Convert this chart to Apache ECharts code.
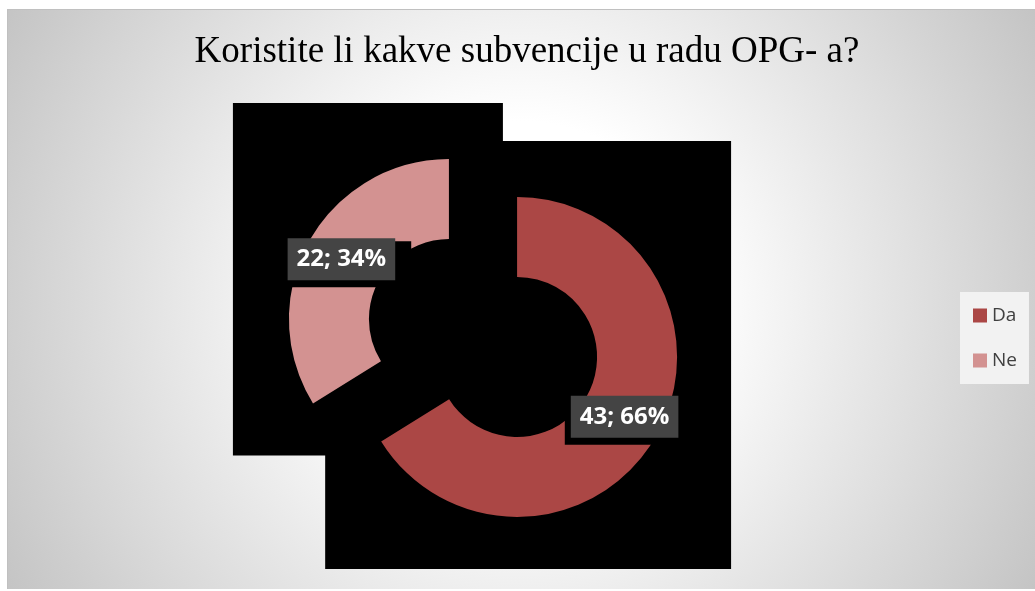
<!DOCTYPE html>
<html>
<head>
<meta charset="utf-8">
<script src="https://cdn.jsdelivr.net/npm/echarts@6/dist/echarts.min.js"></script>
<style>
html,body{margin:0;padding:0;background:#ffffff;}
#main{width:1035px;height:591px;}
</style>
</head>
<body>
<div id="main"></div>
<script>
const titleText = 'Koristite li kakve subvencije u radu OPG- a?';
const categories = ['Da', 'Ne'];
const counts = [43, 22];
const sliceColors = ['#AB4745', '#D39291'];

const EXPLODE = 39;
const chart = echarts.init(document.getElementById('main'), null, {renderer: 'canvas'});

const bg = [
  {type: 'rect', id: 'bg', z: 0, silent: true,
   shape: {x: 7, y: 9, width: 1028, height: 580},
   style: {fill: {type: 'radial', x: 0.5, y: 0.5, r: 1.02,
     colorStops: [{offset: 0, color: '#ffffff'}, {offset: 0.3, color: '#ffffff'}, {offset: 1, color: '#c4c4c4'}]}}},
  {type: 'line', id: 'topline', z: 0, silent: true,
   shape: {x1: 7, y1: 9.5, x2: 1035, y2: 9.5}, style: {stroke: '#c0c0c0', lineWidth: 1}},
  {type: 'line', id: 'leftline', z: 0, silent: true,
   shape: {x1: 7.5, y1: 9, x2: 7.5, y2: 589}, style: {stroke: '#c0c0c0', lineWidth: 1}}
];

const option = {
  animation: false,
  title: {
    text: titleText, left: 522, top: 29, textAlign: 'center',
    textStyle: {fontFamily: 'Liberation Serif', fontSize: 37, fontWeight: 'normal', color: '#000000'}
  },
  legend: {
    orient: 'vertical', left: 960, top: 292, padding: [13, 12, 13, 13],
    backgroundColor: '#f2f2f2', itemWidth: 14, itemHeight: 14, itemGap: 24,
    icon: 'rect', selectedMode: false,
    textStyle: {fontFamily: 'Open Sans', fontSize: 19, color: '#404040', lineHeight: 21},
    data: categories
  },
  graphic: bg,
  series: [{
    type: 'pie', z: 10,
    center: [483, 338], radius: [80, 160],
    startAngle: 90, clockwise: true,
    selectedMode: 'multiple', selectedOffset: EXPLODE,
    avoidLabelOverlap: false,
    emphasis: {disabled: true},
    select: {itemStyle: {borderWidth: 0}},
    itemStyle: {borderWidth: 0},
    label: {
      show: true, position: 'inside',
      formatter: p => '{g|' + p.value + '; ' + Math.round(p.percent) + '%}',
      backgroundColor: '#000000', padding: [6, 16, 16, 6],
      fontFamily: 'Open Sans', fontSize: 24, fontWeight: 'bold', color: '#ffffff',
      rich: {
        g: {backgroundColor: '#444444', color: '#ffffff', fontFamily: 'Open Sans',
            fontWeight: 'bold', fontSize: 24, lineHeight: 24, padding: [9, 9, 9, 9]}
      }
    },
    labelLayout: {dx: 5, dy: 5},
    labelLine: {show: false},
    data: categories.map((c, i) => ({
      name: c, value: counts[i], selected: true,
      itemStyle: {color: sliceColors[i]}
    }))
  }]
};

chart.setOption(option);

// decorative black blocks behind each exploded slice (derived from the library's pie layout)
const sData = chart.getModel().getSeriesByIndex(0).getData();
const blocks = [];
sData.each(function (idx) {
  const L = sData.getItemLayout(idx);
  if (!L) return;
  const mid = (L.startAngle + L.endAngle) / 2;
  const ox = Math.cos(mid) * EXPLODE, oy = Math.sin(mid) * EXPLODE;
  let minX = Infinity, minY = Infinity, maxX = -Infinity, maxY = -Infinity;
  const N = 720;
  for (let k = 0; k <= N; k++) {
    const a = L.startAngle + (L.endAngle - L.startAngle) * k / N;
    [L.r0, L.r].forEach(function (r) {
      const x = L.cx + ox + r * Math.cos(a), y = L.cy + oy + r * Math.sin(a);
      if (x < minX) minX = x; if (x > maxX) maxX = x;
      if (y < minY) minY = y; if (y > maxY) maxY = y;
    });
  }
  blocks.push({type: 'rect', id: 'block' + idx, z: 1, silent: true,
    shape: {x: minX - 56, y: minY - 56, width: (maxX - minX) + 110, height: (maxY - minY) + 108},
    style: {fill: '#000000'}});
});
chart.setOption({graphic: bg.concat(blocks)});
</script>
</body>
</html>
